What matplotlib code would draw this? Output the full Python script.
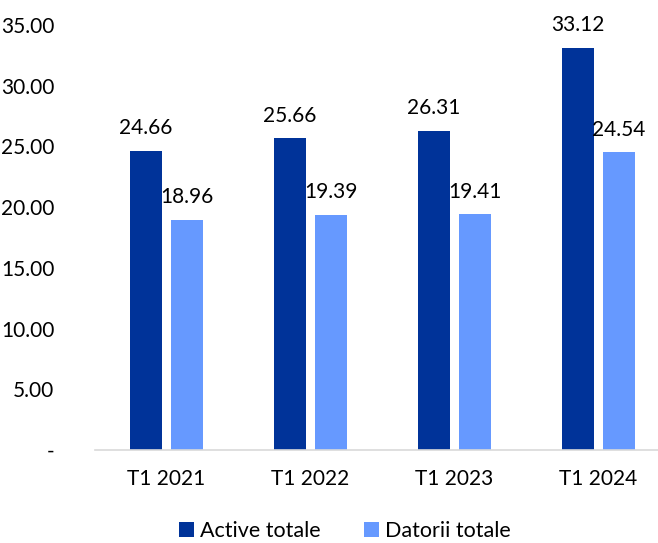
import matplotlib
matplotlib.use('Agg')
import matplotlib.pyplot as plt
import numpy as np

# Data
categories = ['T1 2021', 'T1 2022', 'T1 2023', 'T1 2024']
active_totale = [24.66, 25.66, 26.31, 33.12]
datorii_totale = [18.96, 19.39, 19.41, 24.54]
y_ticks = [0, 5, 10, 15, 20, 25, 30, 35]

plt.rcParams['font.family'] = ['Lato', 'DejaVu Sans']

fig = plt.figure(figsize=(6.58, 5.43), dpi=100)
ax = fig.add_axes([94.5 / 658, 1 - 450 / 543, 576 / 658, 425 / 543])

x = np.arange(len(categories))
w = 0.222
off = 0.142
b1 = ax.bar(x - off, active_totale, w, color='#003399', label='Active totale')
b2 = ax.bar(x + off, datorii_totale, w, color='#6699FF', label='Datorii totale')

for bars in (b1, b2):
    for rect in bars:
        h = rect.get_height()
        ax.annotate(f'{h:.2f}', (rect.get_x() + rect.get_width() / 2, h),
                    xytext=(0, 9), textcoords='offset points',
                    ha='center', va='bottom', fontsize=15)

ax.set_xlim(-0.5, 3.5)
ax.set_ylim(0, 35)
ax.set_yticks(y_ticks)
ax.set_yticklabels(['-' if t == 0 else f'{t:.2f}' for t in y_ticks])
ax.set_xticks(x)
ax.set_xticklabels(categories)
ax.tick_params(axis='y', length=0, pad=29, labelsize=15)
ax.tick_params(axis='x', length=0, pad=14, labelsize=15)

for s in ['top', 'right', 'left']:
    ax.spines[s].set_visible(False)
ax.spines['bottom'].set_color('#d9d9d9')
ax.spines['bottom'].set_linewidth(1.2)

fig.legend(loc='lower center', bbox_to_anchor=(345 / 658, -0.032), ncol=2,
           frameon=False, fontsize=15.5, handlelength=0.7, handleheight=0.7,
           handletextpad=0.3, columnspacing=2.0)

fig.savefig('out.png', dpi=100)
